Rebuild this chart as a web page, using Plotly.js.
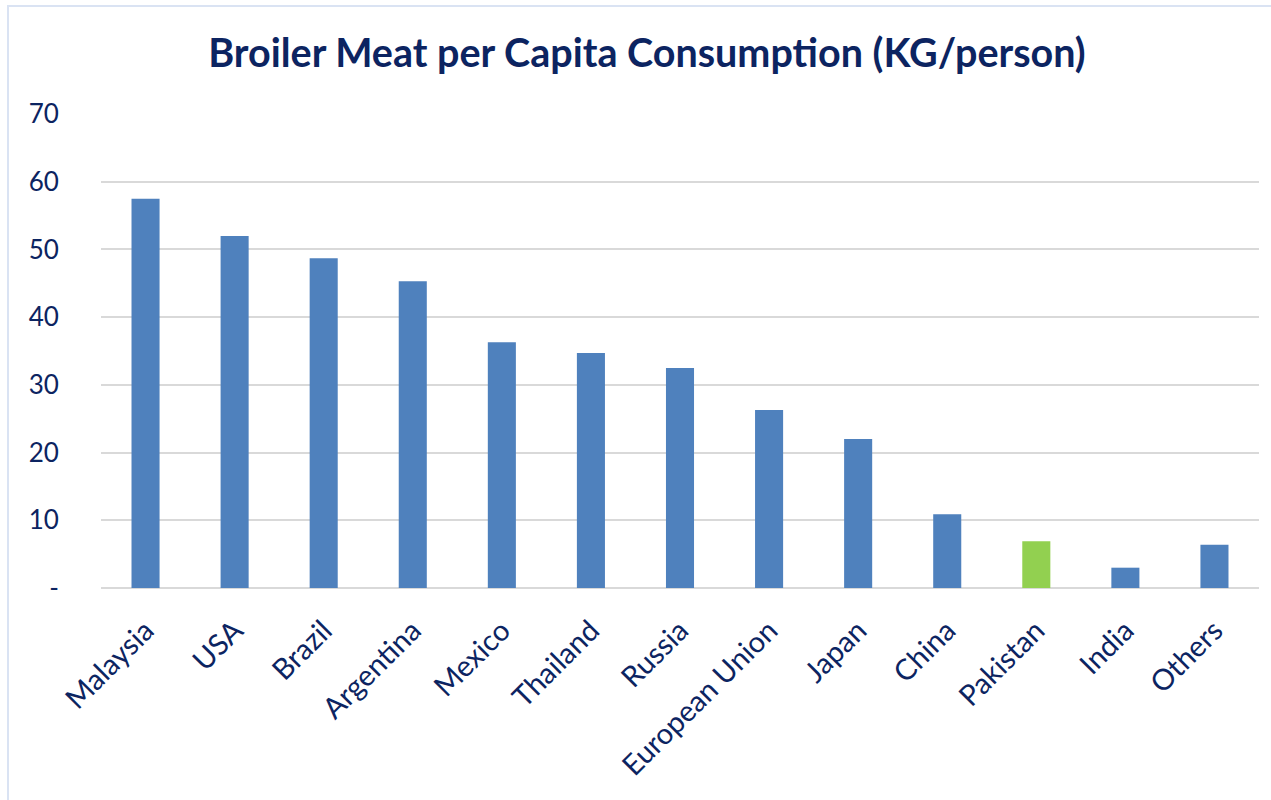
<!DOCTYPE html>
<html>
<head>
<meta charset="utf-8">
<script src="https://cdn.plot.ly/plotly-3.0.1.min.js"></script>
<style>
  html, body { margin: 0; padding: 0; background: #ffffff; overflow: hidden; }
  #frame { position: absolute; left: 7px; top: 5px; width: 1290px; height: 820px; border: 2px solid #dae3f3; box-sizing: border-box; }
  #chart { position: absolute; left: 0; top: 0; width: 1271px; height: 800px; }
</style>
</head>
<body>
<div id="frame"></div>
<div id="chart"></div>
<script>
const categories = ["Malaysia", "USA", "Brazil", "Argentina", "Mexico", "Thailand", "Russia", "European Union", "Japan", "China", "Pakistan", "India", "Others"];
const values = [57.5, 52.0, 48.7, 45.3, 36.3, 34.7, 32.5, 26.3, 22.0, 10.9, 6.9, 3.0, 6.4];
const barColors = ["#4f81bd", "#4f81bd", "#4f81bd", "#4f81bd", "#4f81bd", "#4f81bd", "#4f81bd", "#4f81bd", "#4f81bd", "#4f81bd", "#92d050", "#4f81bd", "#4f81bd"];
const yTickVals = [0, 10, 20, 30, 40, 50, 60, 70];
const yTickText = ["-", "10", "20", "30", "40", "50", "60", "70"];

const navy = "#0c2461";
const font = "Lato, 'Open Sans', 'Noto Sans', sans-serif";

Plotly.newPlot("chart", [{
  type: "bar",
  x: categories,
  y: values,
  marker: { color: barColors, line: { width: 0 } },
  hoverinfo: "x+y"
}], {
  width: 1271,
  height: 800,
  paper_bgcolor: "rgba(0,0,0,0)",
  plot_bgcolor: "rgba(0,0,0,0)",
  margin: { l: 101, r: 12, t: 114, b: 212 },
  bargap: 0.685,
  showlegend: false,
  title: {
    text: "<b>Broiler Meat per Capita Consumption (KG/person)</b>",
    font: { family: font, size: 39.5, color: navy },
    x: 0.509, xanchor: "center",
    y: 0.934, yanchor: "middle"
  },
  xaxis: {
    type: "category",
    tickangle: -45,
    tickfont: { family: font, size: 29, color: navy },
    ticks: "outside",
    ticklen: 13,
    tickcolor: "rgba(0,0,0,0)",
    showgrid: false,
    showline: false,
    zeroline: false
  },
  yaxis: {
    range: [0, 70],
    tickvals: yTickVals,
    ticktext: yTickText,
    tickfont: { family: font, size: 26, color: navy },
    ticks: "outside",
    ticklen: 36,
    tickcolor: "rgba(0,0,0,0)",
    showgrid: true,
    gridcolor: "#d9d9d9",
    gridwidth: 1.5,
    zeroline: true,
    zerolinecolor: "#d9d9d9",
    zerolinewidth: 2,
    showline: false
  }
}, { displayModeBar: false, staticPlot: false });
</script>
</body>
</html>
